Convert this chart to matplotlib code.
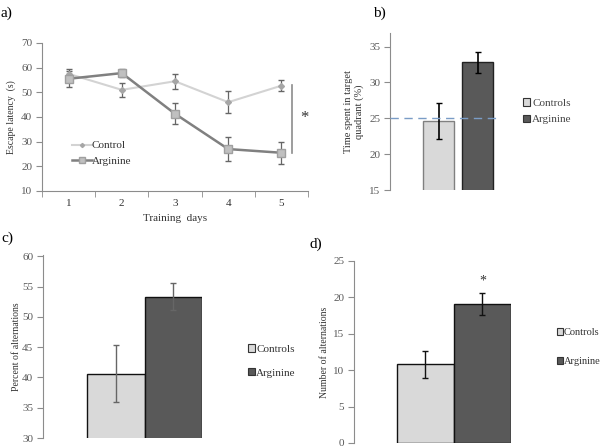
import matplotlib
matplotlib.use('Agg')
import matplotlib.pyplot as plt
from matplotlib.lines import Line2D
import numpy as np

plt.rcParams['font.family'] = ['Liberation Serif', 'DejaVu Serif']

# Data
days = [1, 2, 3, 4, 5]
control_lat = [57.5, 51.0, 54.5, 46.0, 52.7]
control_err = [2.0, 2.8, 3.0, 4.5, 2.2]
arg_lat = [55.5, 57.8, 41.3, 27.0, 25.5]
arg_err = [3.3, 1.5, 4.3, 4.7, 4.5]

groups = ['Controls', 'Arginine']
time_quadrant = [24.6, 32.8]
time_quadrant_err = [2.5, 1.5]
pct_alt = [40.6, 53.3]
pct_alt_err = [4.7, 2.2]
n_alt = [10.8, 19.1]
n_alt_err = [1.9, 1.5]

W, H = 601, 447
fig = plt.figure(figsize=(W / 100, H / 100), dpi=100)


def box(x0, x1, ytop, ybot):
    return [x0 / W, 1 - ybot / H, (x1 - x0) / W, (ybot - ytop) / H]


tick_col = '#595959'
spine_col = '#8c8c8c'
ctrl_col = '#d9d9d9'
arg_col = '#595959'


def style(ax, bottom=True):
    for s in ['top', 'right']:
        ax.spines[s].set_visible(False)
    ax.spines['bottom'].set_visible(bottom)
    ax.spines['left'].set_color(spine_col)
    ax.spines['bottom'].set_color(spine_col)
    ax.tick_params(axis='y', direction='out', length=4, color=spine_col,
                   labelcolor=tick_col, labelsize=8, pad=3)


# a) escape latency
ax = fig.add_axes(box(42, 308, 43, 191))
style(ax)
ctrl_style = dict(color='#d3d3d3', lw=1.5, marker='D', ms=3,
                  mfc='#a6a6a6', mec='#a6a6a6')
arg_style = dict(color='#808080', lw=1.8, marker='s', ms=6,
                 mfc='#c0c0c0', mec='#a0a0a0')
ax.errorbar(days, control_lat, yerr=control_err, ecolor='#666666',
            elinewidth=0.9, capsize=2.5, **ctrl_style)
ax.errorbar(days, arg_lat, yerr=arg_err, ecolor='#666666',
            elinewidth=0.9, capsize=2.5, **arg_style)
ax.set_xlim(0.5, 5.5)
ax.set_ylim(10, 70)
ax.set_yticks(range(10, 71, 10))
ax.set_xticks(days)
ax.set_xticks(np.arange(0.5, 5.6, 1), minor=True)
ax.tick_params(axis='x', which='major', length=0, labelcolor='#333333',
               labelsize=8, pad=6)
ax.tick_params(axis='x', which='minor', direction='out', length=4,
               color=spine_col)
ax.set_xlabel('Training  days', fontsize=8, color='#333333', labelpad=4)
ax.set_ylabel('Escape latency  (s)', fontsize=7, color='#333333', labelpad=4)
ax.plot([5.2, 5.2], [25.4, 53.0], color='#8c8c8c', lw=1.2, clip_on=False)
ax.text(5.43, 39.6, '*', fontsize=12, ha='center', va='center', color='#333333')
ha = [Line2D([], [], **ctrl_style), Line2D([], [], **arg_style)]
leg = ax.legend(ha, ['Control', 'Arginine'], loc='upper left',
                bbox_to_anchor=(0.095, 0.37), frameon=False,
                fontsize=8, handlelength=1.8, handletextpad=0.0,
                markerscale=0.7, labelspacing=0.5, borderaxespad=0)
for t in leg.get_texts():
    t.set_color('#333333')
fig.text(0.5 / W, 1 - 13 / H, 'a)', fontsize=11, va='center')

# b) time in target quadrant
ax = fig.add_axes(box(390, 499, 33, 190))
style(ax, bottom=False)
xb = np.arange(len(groups))
ax.bar(xb, time_quadrant, width=0.795, bottom=0, color=[ctrl_col, arg_col],
       edgecolor=['#808080', '#222222'], lw=1.0, zorder=2)
ax.errorbar(xb, time_quadrant, yerr=time_quadrant_err, fmt='none',
            ecolor='black', elinewidth=1.2, capsize=2.5, zorder=3)
ax.axhline(25, color='#7a9cc6', lw=1.0, ls=(0, (6, 4)), zorder=4)
ax.set_xlim(-1.244, 1.551)
ax.set_ylim(15, 36.9)
ax.set_yticks(range(15, 36, 5))
ax.set_xticks([])
ax.set_ylabel('Time spent in target\nquadrant (%)', fontsize=7.5,
              color='#333333', labelpad=4, linespacing=1.1)
hb = [plt.Rectangle((0, 0), 1, 1, fc=ctrl_col, ec='#333333', lw=0.8),
      plt.Rectangle((0, 0), 1, 1, fc=arg_col, ec='#333333', lw=0.8)]
leg = fig.legend(hb, groups, loc='upper left',
                 bbox_to_anchor=(519 / W, 1 - 94 / H), frameon=False,
                 fontsize=8, handlelength=0.6, handleheight=0.6,
                 handletextpad=0.2, labelspacing=0.6, borderaxespad=0)
for t in leg.get_texts():
    t.set_color('#444444')
fig.text(373 / W, 1 - 13 / H, 'b)', fontsize=11, va='center')

# c) percent of alternations
ax = fig.add_axes(box(43, 202, 255, 438))
style(ax, bottom=False)
ax.bar(xb, pct_alt, width=1.0, color=[ctrl_col, arg_col],
       edgecolor='#111111', lw=1.0, zorder=2)
ax.errorbar(xb, pct_alt, yerr=pct_alt_err, fmt='none',
            ecolor='#666666', elinewidth=1.0, capsize=2.5, zorder=3)
ax.set_xlim(-1.27, 1.5)
ax.set_ylim(30, 60.2)
ax.set_yticks(range(30, 61, 5))
ax.set_xticks([])
ax.set_ylabel('Percent of alternations', fontsize=7, color='#333333',
              labelpad=1)
leg = fig.legend(hb, groups, loc='upper left',
                 bbox_to_anchor=(244 / W, 1 - 340 / H), frameon=False,
                 fontsize=8, handlelength=0.6, handleheight=0.6,
                 handletextpad=0.1, labelspacing=1.3, borderaxespad=0)
for t in leg.get_texts():
    t.set_color('#333333')
fig.text(1 / W, 1 - 238 / H, 'c)', fontsize=11, va='center')

# d) number of alternations
ax = fig.add_axes(box(354, 511, 261, 443))
style(ax, bottom=False)
ax.bar(xb, n_alt, width=1.0, color=[ctrl_col, arg_col],
       edgecolor='#111111', lw=1.0, zorder=2)
ax.errorbar(xb, n_alt, yerr=n_alt_err, fmt='none',
            ecolor='#111111', elinewidth=1.0, capsize=2.5, zorder=3)
ax.text(1, 22.2, '*', fontsize=10, ha='center', va='center', color='#333333')
ax.set_xlim(-1.246, 1.5)
ax.set_ylim(0, 25)
ax.set_yticks(range(0, 26, 5))
ax.set_xticks([])
ax.set_ylabel('Number of alternations', fontsize=7, color='#333333',
              labelpad=3)
leg = fig.legend(hb, groups, loc='upper left',
                 bbox_to_anchor=(553 / W, 1 - 324 / H), frameon=False,
                 fontsize=7.5, handlelength=0.6, handleheight=0.6,
                 handletextpad=0.05, labelspacing=1.9, borderaxespad=0)
for t in leg.get_texts():
    t.set_color('#333333')
fig.text(310 / W, 1 - 244 / H, 'd)', fontsize=11, va='center')

fig.savefig('out.png', dpi=100)
